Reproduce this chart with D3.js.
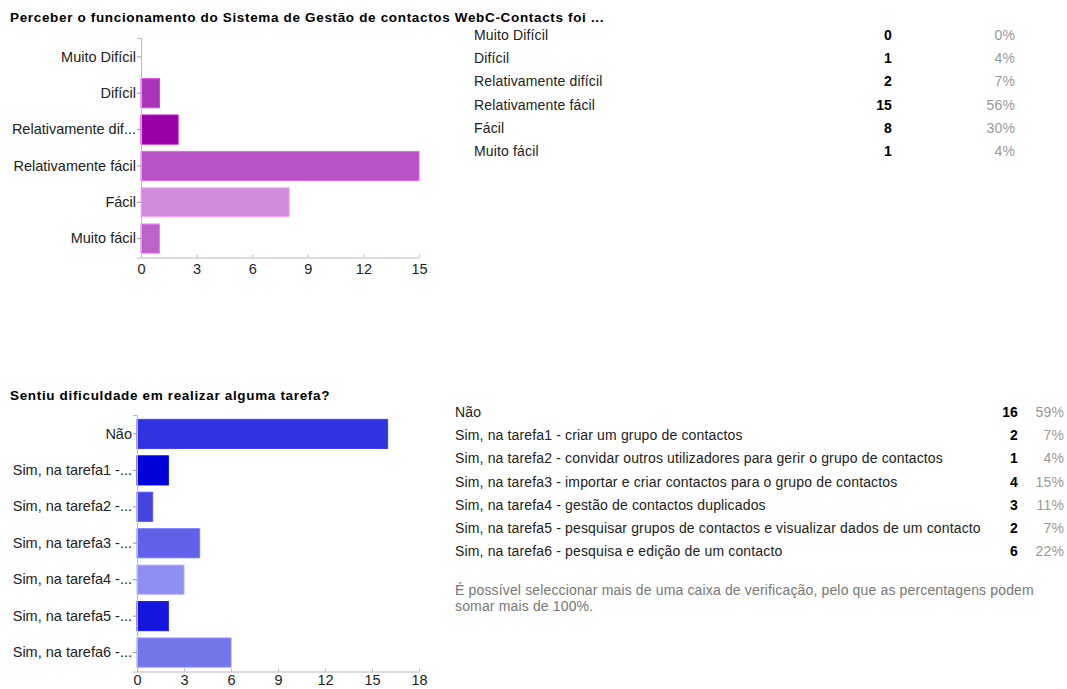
<!DOCTYPE html>
<html><head><meta charset="utf-8">
<script src="https://cdn.jsdelivr.net/npm/d3@7"></script>
<style>
body{margin:0;background:#fff;}
svg{display:block;font-family:"Liberation Sans",Arial,sans-serif;}
</style></head>
<body>
<svg id="c" width="1067" height="689"></svg>
<script>
const title1 = "Perceber o funcionamento do Sistema de Gestão de contactos WebC-Contacts foi ...";
const cats1 = ["Muito Difícil","Difícil","Relativamente difícil","Relativamente fácil","Fácil","Muito fácil"];
const axisLabels1 = ["Muito Difícil","Difícil","Relativamente dif...","Relativamente fácil","Fácil","Muito fácil"];
const values1 = [0,1,2,15,8,1];
const pct1 = ["0%","4%","7%","56%","30%","4%"];
const colors1 = ["#b040bd","#ab35b9","#9900a6","#b753c5","#d08cdb","#bd62ca"];
const ticks1 = [0,3,6,9,12,15];

const title2 = "Sentiu dificuldade em realizar alguma tarefa?";
const cats2 = ["Não","Sim, na tarefa1 - criar um grupo de contactos","Sim, na tarefa2 - convidar outros utilizadores para gerir o grupo de contactos","Sim, na tarefa3 - importar e criar contactos para o grupo de contactos","Sim, na tarefa4 - gestão de contactos duplicados","Sim, na tarefa5 - pesquisar grupos de contactos e visualizar dados de um contacto","Sim, na tarefa6 - pesquisa e edição de um contacto"];
const axisLabels2 = ["Não","Sim, na tarefa1 -...","Sim, na tarefa2 -...","Sim, na tarefa3 -...","Sim, na tarefa4 -...","Sim, na tarefa5 -...","Sim, na tarefa6 -..."];
const values2 = [16,2,1,4,3,2,6];
const pct2 = ["59%","7%","4%","15%","11%","7%","22%"];
const colors2 = ["#3232e0","#0000d8","#4545e0","#6060e8","#8f8ff0","#1515dc","#7575ea"];
const ticks2 = [0,3,6,9,12,15,18];
const note2 = ["É possível seleccionar mais de uma caixa de verificação, pelo que as percentagens podem","somar mais de 100%."];

const svg = d3.select("#c");

function barChart(cfg){
  const g = svg.append("g");
  g.append("text").attr("x",10).attr("y",cfg.titleY).attr("font-size",13.5).attr("font-weight","bold")
    .attr("letter-spacing","0.66px").attr("fill","#000").text(cfg.title);
  const x = d3.scaleLinear().domain([0,cfg.max]).range([cfg.x0,cfg.x1]);
  const y = d3.scaleBand().domain(cfg.cats).range([cfg.yTop,cfg.yBot]).paddingInner(0.2).paddingOuter(0.12);
  g.selectAll("rect.bar").data(cfg.values).join("rect")
    .attr("x",x(0)).attr("y",(d,i)=>y(cfg.cats[i]))
    .attr("width",d=>Math.max(0,x(d)-x(0))).attr("height",y.bandwidth())
    .attr("fill",(d,i)=>cfg.colors[i])
    .attr("stroke",(d,i)=>d3.color(cfg.colors[i]).brighter(0.6))
    .attr("stroke-width",d=>d>0?1:0);
  const ya = d3.axisLeft(y).tickSize(4).tickFormat((d,i)=>cfg.axisLabels[i]);
  const yg = g.append("g").attr("transform",`translate(${x(0)},0)`).call(ya);
  yg.select(".domain").attr("stroke","#bbb");
  yg.selectAll(".tick line").attr("stroke","#999");
  yg.selectAll(".tick text").attr("font-size",14.5).attr("fill","#222").attr("x",-5).attr("font-family","Liberation Sans, Arial, sans-serif");
  const xa = d3.axisBottom(x).tickValues(cfg.ticks).tickSize(-3).tickSizeOuter(0);
  const xg = g.append("g").attr("transform",`translate(0,${cfg.yBot})`).call(xa);
  xg.select(".domain").attr("stroke","#bbb");
  xg.selectAll(".tick line").attr("stroke","#bbb");
  xg.selectAll(".tick text").attr("font-size",14.5).attr("fill","#222").attr("y",cfg.tickLabelY).attr("font-family","Liberation Sans, Arial, sans-serif");
  const t = g.append("g").attr("font-size",14).attr("letter-spacing","0.15px");
  cfg.tableCats.forEach((c,i)=>{
    const yy = cfg.tY + i*cfg.tStep;
    t.append("text").attr("x",cfg.tX).attr("y",yy).attr("dy","0.35em").attr("fill","#222").text(c);
    t.append("text").attr("x",cfg.cX).attr("y",yy).attr("dy","0.35em").attr("text-anchor","end")
      .attr("font-weight","bold").attr("fill","#000").text(cfg.values[i]);
    t.append("text").attr("x",cfg.pX).attr("y",yy).attr("dy","0.35em").attr("text-anchor","end")
      .attr("fill","#999").text(cfg.pct[i]);
  });
  return g;
}

barChart({title:title1,titleY:22,cats:cats1,axisLabels:axisLabels1,values:values1,colors:colors1,ticks:ticks1,max:15,
  x0:141,x1:419,yTop:38,yBot:257.5,tickLabelY:6.5,tableCats:cats1,pct:pct1,tX:474,tY:35,tStep:23.2,cX:892,pX:1015});
barChart({title:title2,titleY:400,cats:cats2,axisLabels:axisLabels2,values:values2,colors:colors2,ticks:ticks2,max:18,
  x0:137,x1:419,yTop:415,yBot:671.5,tickLabelY:3.5,tableCats:cats2,pct:pct2,tX:455,tY:412,tStep:23.2,cX:1018,pX:1064});

const n = svg.append("g").attr("font-size",14).attr("letter-spacing","0.15px").attr("fill","#777");
note2.forEach((s,i)=>n.append("text").attr("x",455).attr("y",590+i*16).attr("dy","0.35em").text(s));
</script>
</body></html>
